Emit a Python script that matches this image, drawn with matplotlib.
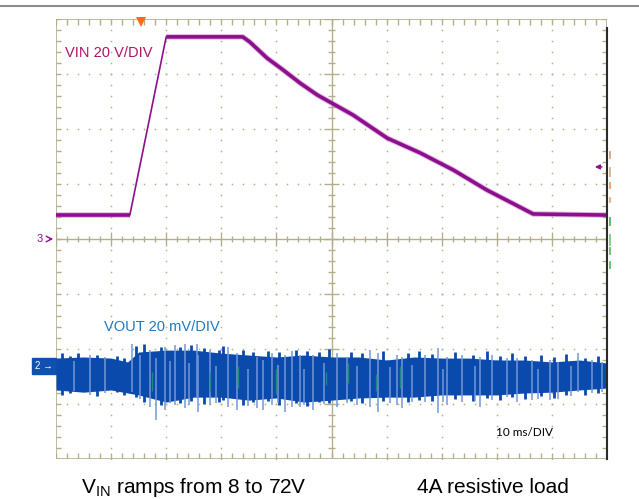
import numpy as np
import matplotlib.pyplot as plt
from matplotlib.lines import Line2D
from matplotlib.patches import Rectangle
from matplotlib.collections import LineCollection

plt.rcParams['font.family'] = ['Liberation Sans', 'DejaVu Sans']
plt.rcParams['mathtext.fontset'] = 'custom'
plt.rcParams['mathtext.rm'] = 'Liberation Sans'
plt.rcParams['mathtext.it'] = 'Liberation Sans:italic'

# ---- data ----
# VIN trace: time (ms), voltage (V)
vin_t = [0, 13.4, 20.0, 33.9, 35.2, 38.3, 41.2, 44.3, 47.4, 53.9,
         60.1, 66.1, 72.1, 78.2, 84.2, 86.6, 100]
vin_v = [8.7, 8.7, 73.5, 73.5, 71.6, 65.8, 61.5, 56.7, 52.4, 45.1,
         36.7, 31.3, 25.1, 17.8, 11.6, 9.1, 8.7]

# VOUT noise band envelope: time (ms), upper / lower (mV)
vout_t = [0, 5, 10, 13, 15, 20, 25, 30, 35, 40, 45, 50,
          55, 60, 65, 70, 75, 80, 85, 90, 95, 100]
vout_hi = [2.9, 3.3, 2.9, 1.5, 5.1, 5.8, 5.8, 4.7, 4.0, 3.3, 4.0, 3.3,
           3.3, 2.2, 3.3, 2.9, 2.9, 2.2, 2.2, 1.5, 2.2, 1.1]
vout_lo = [-8.7, -9.5, -8.7, -9.8, -10.5, -13.1, -11.3, -11.3, -12.4, -11.6, -13.1, -12.4,
           -11.6, -11.3, -11.3, -10.5, -10.5, -10.5, -9.8, -9.5, -8.7, -8.0]

# dark blue peaks along the band edges: time (ms), top / bottom (mV)
peak_t = [1.0, 2.5, 4.0, 7.5, 11.0, 12.3, 14.6, 16.0, 19.0, 22.5,
          24.5, 26.8, 29.5, 30.3, 34.0, 35.8, 38.4, 40.5, 43.5, 45.5,
          47.8, 49.5, 53.6, 55.5, 59.3, 63.8, 65.8, 68.2, 72.4, 75.6,
          78.2, 80.6, 82.8, 85.2, 88.0, 90.3, 92.6, 96.0, 98.3]
peak_hi = [4.6, 3.6, 4.8, 4.2, 3.8, 2.8, 7.4, 8.0, 7.0, 6.8,
           7.6, 6.6, 6.0, 7.2, 5.8, 5.2, 5.6, 5.0, 6.0, 5.4,
           5.0, 6.2, 5.0, 4.8, 5.4, 4.6, 5.6, 4.4, 5.2, 4.2,
           5.6, 3.8, 4.6, 3.6, 4.0, 3.4, 4.4, 3.0, 3.8]
peak_lo = [-10.5, -9.9, -9.0, -10.8, -9.6, -10.6, -11.4, -13.0, -14.0, -13.4,
           -12.8, -13.8, -13.0, -12.2, -14.0, -13.2, -12.6, -14.2, -13.6, -14.6,
           -13.0, -13.4, -12.6, -13.4, -12.8, -13.0, -12.2, -12.8, -12.0, -12.6,
           -11.6, -12.2, -11.4, -11.8, -11.0, -11.6, -10.4, -10.6, -9.8]

# light blue spikes: time (ms), top / bottom (mV)
spike_t = [3.2, 6.2, 8.9, 13.8, 15.3, 17.1, 18.1, 19.8, 20.7, 21.6,
           23.4, 24.2, 25.6, 25.8, 27.9, 29.0, 31.2, 32.8, 34.8, 36.5,
           37.6, 39.2, 40.2, 41.6, 42.8, 44.3, 45.0, 46.6, 48.6, 51.0,
           52.8, 54.6, 57.0, 58.4, 60.6, 61.9, 62.8, 64.6, 67.0, 69.3,
           70.2, 71.0, 73.7, 76.1, 77.0, 79.1, 81.9, 83.7, 86.4, 87.5,
           89.7, 91.1, 93.5, 94.7, 97.3, 99.1]
spike_hi = [2.0, 4.0, 3.4, 8.2, 4.0, 5.8, 3.0, 7.0, 2.0, 7.6,
            8.2, 1.0, 8.2, 4.0, 5.8, 0.0, 7.0, 4.6, -1.0, 3.4,
            2.2, 4.6, 0.5, 4.0, 5.3, 4.0, -1.0, 4.0, 1.0, 4.6,
            3.4, 0.0, 5.8, 4.6, -0.5, 4.0, 3.4, 0.5, 4.0, 6.4,
            -1.0, 3.4, 4.0, 0.0, 3.4, 4.0, 2.8, 2.8, 2.2, -1.0,
            2.2, 1.6, 0.0, 4.6, 2.2, 1.6]
spike_lo = [-9.0, -10.5, -9.9, -9.3, -12.0, -14.8, -19.6, -16.0, -13.5, -14.2,
            -15.4, -14.0, -11.2, -16.6, -14.2, -13.6, -14.8, -16.0, -14.5, -15.4,
            -16.0, -14.2, -13.5, -16.6, -14.8, -14.8, -14.0, -16.0, -13.8, -14.8,
            -13.6, -14.0, -14.8, -16.6, -13.4, -14.2, -15.4, -13.0, -13.0, -17.2,
            -13.0, -14.2, -13.0, -12.6, -14.8, -12.4, -11.2, -13.0, -12.4, -12.0,
            -12.4, -11.8, -11.0, -9.3, -9.9, -9.3]

# a few teal strokes inside the band
teal_t = [17.5, 28.0, 33.0, 40.0, 49.0, 53.0, 58.0, 62.5]
teal_hi = [-2.0, -2.0, 0.0, -1.0, -2.0, 1.0, -3.0, 0.0]
teal_lo = [-9.0, -9.0, -8.0, -10.0, -7.0, -6.0, -9.0, -8.0]

VIN_SCALE = 20.0     # V/div
VOUT_SCALE = 20.0    # mV/div
VOUT_OFFSET = -2.31  # div
TRIG_T = 15.4        # ms

GRID = '#b5ae8c'
PURPLE = '#8e0f8e'
BLUE = '#0a4aad'

W, H = 639, 499
fig = plt.figure(figsize=(W / 100, H / 100), dpi=100)
ax = fig.add_axes([56 / W, 1 - 459 / H, 551 / W, 440 / H])
ax.set_xlim(0, 100)
ax.set_ylim(-4, 4)
ax.axis('off')

# ---- graticule ----
fine_x = np.arange(0, 100.01, 2)
fine_y = np.arange(-4, 4.001, 0.2)
for gx in range(10, 100, 10):
    if gx != 50:
        ax.plot(np.full_like(fine_y, gx), fine_y, ls='none', marker='s',
                ms=1.1, color=GRID, mew=0, zorder=1)
for gy in range(-3, 4):
    if gy != 0:
        ax.plot(fine_x, np.full_like(fine_x, gy), ls='none', marker='s',
                ms=1.1, color=GRID, mew=0, zorder=1)

ax.plot([0, 100, 100, 0, 0], [-4, -4, 4, 4, -4], color=GRID, lw=1.2, zorder=1)
ax.plot([50, 50], [-4, 4], color=GRID, lw=1.0, zorder=1)
ax.plot([0, 100], [0, 0], color=GRID, lw=1.0, zorder=1)

segs = []
for y in fine_y:
    segs.append([(0, y), (0.9, y)])
    segs.append([(99.1, y), (100, y)])
    h = 1.3 if abs(y - round(y)) < 1e-6 else 0.55
    segs.append([(50 - h, y), (50 + h, y)])
for x in fine_x:
    segs.append([(x, 4), (x, 3.89)])
    segs.append([(x, -4), (x, -3.89)])
    h = 0.13 if x % 10 == 0 else 0.055
    segs.append([(x, -h), (x, h)])
ax.add_collection(LineCollection(segs, colors=GRID, linewidths=1.0, zorder=1))

# ---- VIN ----
vt = np.array(vin_t)
vv = np.array(vin_v) / VIN_SCALE
ax.plot(vt, vv, color=PURPLE, lw=1.2, solid_capstyle='butt', zorder=3)
for sl in (slice(0, 2), slice(2, None)):
    ax.plot(vt[sl], vv[sl], color='#c070c0', lw=4.0, alpha=0.5,
            solid_capstyle='butt', zorder=3)
    ax.plot(vt[sl], vv[sl], color=PURPLE, lw=2.6, solid_capstyle='butt', zorder=3)

# ---- VOUT ----
ot = np.array(vout_t)
ax.fill_between(ot, VOUT_OFFSET + np.array(vout_hi) / VOUT_SCALE,
                VOUT_OFFSET + np.array(vout_lo) / VOUT_SCALE, color=BLUE, lw=0, zorder=3)
ax.vlines(peak_t, VOUT_OFFSET + np.array(peak_lo) / VOUT_SCALE,
          VOUT_OFFSET + np.array(peak_hi) / VOUT_SCALE, color=BLUE, lw=2.0, zorder=3)
ax.vlines(spike_t, VOUT_OFFSET + np.array(spike_lo) / VOUT_SCALE,
          VOUT_OFFSET + np.array(spike_hi) / VOUT_SCALE, color='#7398d8', lw=1.1, zorder=4)
ax.vlines(teal_t, VOUT_OFFSET + np.array(teal_lo) / VOUT_SCALE,
          VOUT_OFFSET + np.array(teal_hi) / VOUT_SCALE, color='#1a8a80', lw=1.0, zorder=4)

# ---- labels on screen ----
ax.text(1.6, 3.38, 'VIN 20 V/DIV', color='#b0136a', fontsize=10.5, va='center', zorder=5)
ax.text(8.8, -1.6, 'VOUT 20 mV/DIV', color='#1f78c4', fontsize=10.5, va='center', zorder=5)
ax.text(79.8, -3.51, '10 ms/DIV', color='black', fontsize=8.5, va='center',
        family=['Lato', 'DejaVu Sans'], zorder=5)

# channel markers
ax.add_patch(Rectangle((-4.36, VOUT_OFFSET - 0.14), 4.36, 0.28, color='#1050b0',
                       clip_on=False))
ax.text(-2.2, VOUT_OFFSET, '2 →', color='white', fontsize=7, ha='center',
        va='center', clip_on=False)
ax.text(-2.9, 0, '3', color=PURPLE, fontsize=8, ha='center', va='center', clip_on=False)
ax.annotate('', xy=(0, 0), xytext=(-1.7, 0),
            arrowprops=dict(arrowstyle='->', color=PURPLE, lw=1.0), annotation_clip=False)
ax.annotate('', xy=(97.3, 1.31), xytext=(99.6, 1.31),
            arrowprops=dict(arrowstyle='-|>', color=PURPLE, lw=1.0, mutation_scale=7),
            annotation_clip=False)
ax.plot(TRIG_T, 3.94, marker='v', color='#ff6a1a', ms=7, mew=0, clip_on=False, zorder=5)

# right edge markers
ax.plot([100, 100], [-4, 3.84], color='#2b2b2b', lw=1.5, clip_on=False, zorder=5)
for y0, y1, c in [(152, 158, '#e0a070'), (168, 176, '#e0b080'), (183, 188, '#e0a070'),
                  (198, 202, '#e0b080'), (218, 225, '#50b850'), (235, 245, '#80c880'),
                  (248, 254, '#60c060'), (262, 268, '#60c060')]:
    ax.plot([100.55, 100.55], [(239 - y0) / 55, (239 - y1) / 55], color=c, lw=1.3,
            clip_on=False)

# frame line at top of the screenshot
fig.add_artist(Line2D([0, 1], [1 - 6 / H, 1 - 6 / H], color='#8c8c8c', lw=1.5,
                      transform=fig.transFigure))

# captions below
fig.text(194 / W, 1 - 493 / H, r'V$_{\mathrm{IN}}$ ramps from 8 to 72V', fontsize=15,
         ha='center', va='baseline')
fig.text(493 / W, 1 - 493 / H, '4A resistive load', fontsize=15, ha='center',
         va='baseline')

fig.savefig('out.png', dpi=100)
